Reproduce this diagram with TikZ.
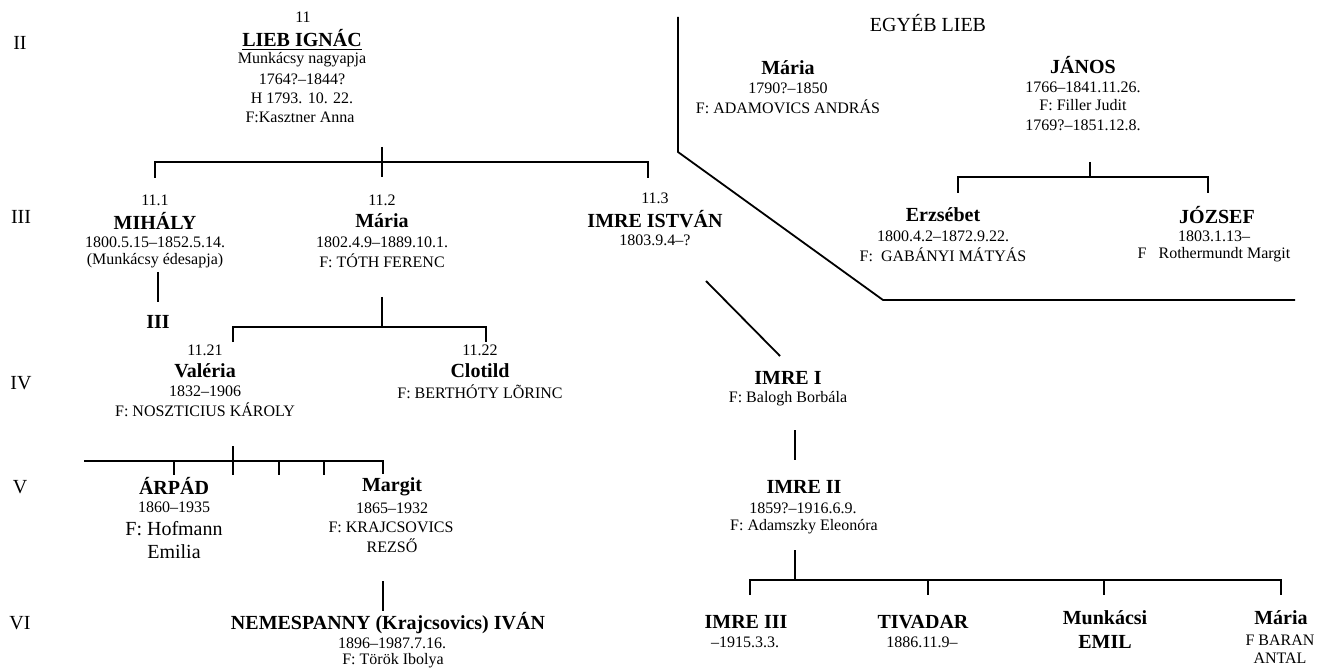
\documentclass[tikz,border=0pt]{standalone}
\usepackage{fontspec}
\setmainfont{Liberation Serif}
\begin{document}
\begin{tikzpicture}[x=1pt,y=-1pt,
  sm/.style={font=\fontsize{16}{18}\selectfont,inner sep=0pt},
  big/.style={font=\fontsize{20}{22}\selectfont,inner sep=0pt},
  nm/.style={font=\bfseries\fontsize{20}{22}\selectfont,inner sep=0pt},
  ln/.style={line width=1.8pt}]
\fill[white] (0,0) rectangle (1318,671);
\useasboundingbox (0,0) rectangle (1318,671);

% generation labels
\node[big] (gII) at (20,43) {II};
\node[big] (gIII) at (21,217) {III};
\node[big] (gIV) at (21,383) {IV};
\node[big] (gV) at (20,487) {V};
\node[big] (gVI) at (20,623) {VI};

% Lieb Ignac
\node[sm] (lieb-n) at (303,17) {11};
\node[nm] (lieb) at (302,38) {LIEB IGNÁC};
\draw[line width=1.5pt] ([yshift=-3pt]lieb.base west) -- ([yshift=-3pt]lieb.base east);
\node[sm] (lieb-1) at (302,60) {Munkácsy nagyapja};
\node[sm] (lieb-2) at (302,79) {1764?–1844?};
\node[sm] (lieb-3) at (302,98) {H 1793. 10. 22.};
\node[sm] (lieb-4) at (300,117) {F:Kasztner Anna};

\coordinate (tb-up) at (382,147);
\coordinate (tb-dn) at (382,177);
\coordinate (tb-l) at (155,162);
\coordinate (tb-r) at (648,162);
\coordinate (tb-l2) at (155,178);
\coordinate (tb-r2) at (648,178);
\draw[ln] (tb-up) -- (tb-dn);
\draw[ln] (tb-l2) -- (tb-l) -- (tb-r) -- (tb-r2);

% generation III
\node[sm] (mih-n) at (155,200) {11.1};
\node[nm] (mih) at (155,221) {MIHÁLY};
\node[sm] (mih-1) at (155,242) {1800.5.15–1852.5.14.};
\node[sm] (mih-2) at (155,261) {(Munkácsy édesapja)};
\node[nm] (mih-III) at (158,322) {III};
\coordinate (mv-a) at (158,272);
\coordinate (mv-b) at (158,302);
\draw[ln] (mv-a) -- (mv-b);

\node[sm] (mar-n) at (382,200) {11.2};
\node[nm] (mar) at (382,221) {Mária};
\node[sm] (mar-1) at (382,242) {1802.4.9–1889.10.1.};
\node[sm] (mar-2) at (382,261) {F: TÓTH FERENC};

\node[sm] (ist-n) at (655,198) {11.3};
\node[nm] (ist) at (655,219) {IMRE ISTVÁN};
\node[sm] (ist-1) at (655,240) {1803.9.4–?};

\coordinate (mb-up) at (382,297);
\coordinate (mb-m) at (382,327);
\coordinate (mb-l) at (233,327);
\coordinate (mb-r) at (486,327);
\coordinate (mb-l2) at (233,342);
\coordinate (mb-r2) at (486,342);
\draw[ln] (mb-up) -- (mb-m);
\draw[ln] (mb-l2) -- (mb-l) -- (mb-r) -- (mb-r2);

% generation IV
\node[sm] (val-n) at (205,350) {11.21};
\node[nm] (val) at (205,371) {Valéria};
\node[sm] (val-1) at (205,391) {1832–1906};
\node[sm] (val-2) at (205,410) {F: NOSZTICIUS KÁROLY};
\node[sm] (clo-n) at (480,350) {11.22};
\node[nm] (clo) at (480,371) {Clotild};
\node[sm] (clo-1) at (480,392) {F: BERTHÓTY LÕRINC};

% generation V bracket
\coordinate (vb-l) at (84,461);
\coordinate (vb-r) at (383,461);
\coordinate (vb-a) at (174,461);
\coordinate (vb-a2) at (174,475);
\coordinate (vb-b1) at (233,446);
\coordinate (vb-b2) at (233,475);
\coordinate (vb-c) at (279,461);
\coordinate (vb-c2) at (279,475);
\coordinate (vb-d) at (324,461);
\coordinate (vb-d2) at (324,475);
\coordinate (vb-r2) at (383,474);
\draw[ln] (vb-l) -- (vb-r) -- (vb-r2);
\draw[ln] (vb-a) -- (vb-a2);
\draw[ln] (vb-b1) -- (vb-b2);
\draw[ln] (vb-c) -- (vb-c2);
\draw[ln] (vb-d) -- (vb-d2);

\node[nm] (arp) at (174,486) {ÁRPÁD};
\node[sm] (arp-1) at (174,507) {1860–1935};
\node[big] (arp-2) at (174,529) {F: Hofmann};
\node[big] (arp-3) at (174,552) {Emilia};
\node[nm] (mrg) at (392,487) {Margit};
\node[sm] (mrg-1) at (392,508) {1865–1932};
\node[sm] (mrg-2) at (391,527) {F: KRAJCSOVICS};
\node[sm] (mrg-3) at (392,546) {REZSŐ};
\coordinate (iv-a) at (383,581);
\coordinate (iv-b) at (383,611);
\draw[ln] (iv-a) -- (iv-b);

% generation VI
\node[nm] (iva) at (388,623) {NEMESPANNY (Krajcsovics) IVÁN};
\node[sm] (iva-1) at (392,643) {1896–1987.7.16.};
\node[sm] (iva-2) at (393,661) {F: Török Ibolya};

% right: other Lieb
\coordinate (bd-a) at (678,17);
\coordinate (bd-b) at (678,152);
\coordinate (bd-c) at (883,300);
\coordinate (bd-d) at (1295,300);
\draw[ln] (bd-a) -- (bd-b) -- (bd-c) -- (bd-d);
\node[big] (egy) at (928,23) {EGYÉB LIEB};
\node[nm] (om) at (788,68) {Mária};
\node[sm] (om-1) at (788,88) {1790?–1850};
\node[sm] (om-2) at (788,107) {F: ADAMOVICS ANDRÁS};
\node[nm] (jan) at (1083,65) {JÁNOS};
\node[sm] (jan-1) at (1083,87) {1766–1841.11.26.};
\node[sm] (jan-2) at (1083,105) {F: Filler Judit};
\node[sm] (jan-3) at (1083,125) {1769?–1851.12.8.};
\coordinate (jb-up) at (1090,162);
\coordinate (jb-m) at (1090,177);
\coordinate (jb-l) at (958,177);
\coordinate (jb-r) at (1208,177);
\coordinate (jb-l2) at (958,193);
\coordinate (jb-r2) at (1208,193);
\draw[ln] (jb-up) -- (jb-m);
\draw[ln] (jb-l2) -- (jb-l) -- (jb-r) -- (jb-r2);
\node[nm] (erz) at (943,215) {Erzsébet};
\node[sm] (erz-1) at (943,236) {1800.4.2–1872.9.22.};
\node[sm] (erz-2) at (943,255) {F:\enspace GABÁNYI MÁTYÁS};
\node[nm] (joz) at (1217,215) {JÓZSEF};
\node[sm] (joz-1) at (1214,236) {1803.1.13–};
\node[sm] (joz-2) at (1214,255) {F\enspace\ Rothermundt Margit};

% Imre line
\coordinate (dg-a) at (706,281);
\coordinate (dg-b) at (780,356);
\draw[ln] (dg-a) -- (dg-b);
\node[nm] (im1) at (788,378) {IMRE I};
\node[sm] (im1-1) at (788,399) {F: Balogh Borbála};
\coordinate (i1-a) at (795,430);
\coordinate (i1-b) at (795,460);
\draw[ln] (i1-a) -- (i1-b);
\node[nm] (im2) at (804,487) {IMRE II};
\node[sm] (im2-1) at (803,508) {1859?–1916.6.9.};
\node[sm] (im2-2) at (804,527) {F: Adamszky Eleonóra};
\coordinate (ib-up) at (795,550);
\coordinate (ib-m) at (795,580);
\coordinate (ib-l) at (750,580);
\coordinate (ib-r) at (1281,580);
\coordinate (ib-l2) at (750,595);
\coordinate (ib-r2) at (1281,595);
\coordinate (ib-b) at (928,580);
\coordinate (ib-b2) at (928,595);
\coordinate (ib-c) at (1104,580);
\coordinate (ib-c2) at (1104,595);
\draw[ln] (ib-up) -- (ib-m);
\draw[ln] (ib-l2) -- (ib-l) -- (ib-r) -- (ib-r2);
\draw[ln] (ib-b) -- (ib-b2);
\draw[ln] (ib-c) -- (ib-c2);
\node[nm] (im3) at (746,622) {IMRE III};
\node[sm] (im3-1) at (745,642) {–1915.3.3.};
\node[nm] (tiv) at (923,622) {TIVADAR};
\node[sm] (tiv-1) at (922,642) {1886.11.9–};
\node[nm] (emi) at (1105,618) {Munkácsi};
\node[nm] (emi-1) at (1105,642) {EMIL};
\node[nm] (bm) at (1281,618) {Mária};
\node[sm] (bm-1) at (1280,640) {F BARAN};
\node[sm] (bm-2) at (1280,658) {ANTAL};
\end{tikzpicture}
\end{document}
